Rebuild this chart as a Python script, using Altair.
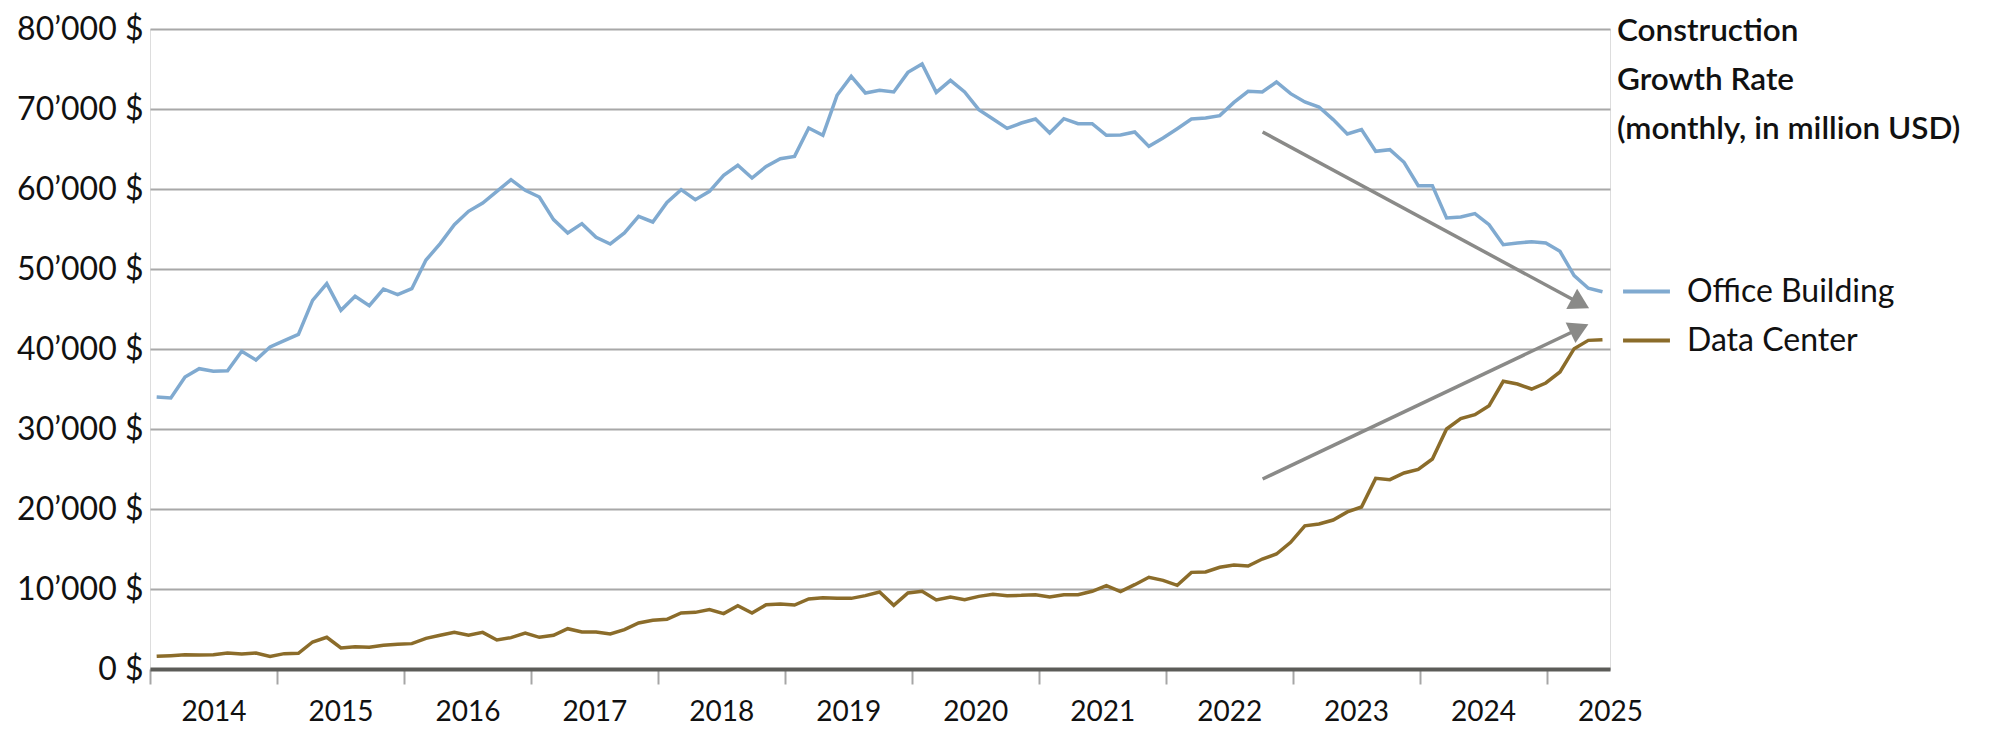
import altair as alt
import pandas as pd

office = [34000, 33875, 36500, 37540, 37210, 37290, 39710, 38625, 40250, 41040,
          41830, 46080, 48170, 44830, 46580, 45420, 47500, 46790, 47540, 51120,
          53170, 55540, 57210, 58250, 59710, 61170, 59830, 59000, 56170, 54500,
          55670, 53960, 53125, 54500, 56580, 55875, 58330, 59920, 58670, 59710,
          61710, 62960, 61375, 62830, 63790, 64080, 67625, 66710, 71710, 74080,
          72000, 72330, 72125, 74580, 75625, 72080, 73580, 72125, 69920, 68750,
          67580, 68250, 68750, 67000, 68790, 68170, 68170, 66710, 66750, 67125,
          65330, 66375, 67540, 68750, 68875, 69170, 70830, 72210, 72125, 73375,
          71920, 70875, 70250, 68670, 66875, 67420, 64710, 64920, 63340, 60420,
          60420, 56375, 56500, 56920, 55540, 53040, 53250, 53420, 53250, 52210,
          49170, 47600, 47150]

datacenter = [1580, 1670, 1790, 1750, 1790, 2000, 1875, 2000, 1580, 1920,
              1960, 3375, 3960, 2625, 2790, 2710, 2960, 3080, 3170, 3830,
              4210, 4580, 4210, 4580, 3625, 3920, 4500, 3960, 4210, 5040,
              4625, 4625, 4375, 4920, 5750, 6080, 6210, 7000, 7080, 7420,
              6920, 7920, 7000, 8040, 8125, 8000, 8750, 8920, 8830, 8830,
              9170, 9625, 7960, 9500, 9710, 8625, 9000, 8670, 9080, 9330,
              9170, 9210, 9290, 9000, 9290, 9290, 9710, 10420, 9670, 10540,
              11460, 11080, 10460, 12080, 12125, 12710, 13000, 12875, 13750, 14375,
              15830, 17900, 18120, 18620, 19640, 20250, 23830, 23670, 24500, 24960,
              26250, 30000, 31290, 31790, 32920, 35960, 35625, 35000, 35750, 37125,
              40040, 41080, 41170]

series_names = ["Office Building", "Data Center"]
series_colors = ["#80aad0", "#8b6c2a"]
year_ticks = list(range(2014, 2026))
y_ticks = list(range(0, 80001, 10000))
title_lines = ["Construction", "Growth Rate", "(monthly, in million USD)"]

# time axis: periods spread evenly from 2014 to mid-2025
t_start, t_end = 2014.0, 2025.5
n = len(office)
t = [t_start + (i + 0.47) * (t_end - t_start) / n for i in range(n)]

df = pd.concat([
    pd.DataFrame({"t": t, "value": office, "series": series_names[0]}),
    pd.DataFrame({"t": t, "value": datacenter, "series": series_names[1]}),
])

# trend arrows (annotation)
arrow_x = [2022.764, 2022.764]
arrow_y = [67125, 23750]
arrow_x2 = [2025.244, 2025.236]
arrow_y2 = [45875, 42375]
arrow_angle = [118.4, 64.6]
arrows = pd.DataFrame({"x": arrow_x, "y": arrow_y, "x2": arrow_x2,
                       "y2": arrow_y2, "angle": arrow_angle})

FONT = "Lato"
W, H = 1460, 640

xscale = alt.Scale(domain=[t_start, t_end], nice=False, zero=False)
yscale = alt.Scale(domain=[0, 80000], nice=False)

x_axis = alt.Axis(values=year_ticks, format="d", labelOffset=63.5, tickSize=15,
                  tickColor="#a6a6a6", tickWidth=2, domainColor="#5c5c58",
                  domainWidth=4, grid=False, labelFontSize=28, labelFont=FONT,
                  labelColor="#111111", labelPadding=14, title=None,
                  labelFlush=False, labelOverlap=False)
y_axis = alt.Axis(values=y_ticks,
                  labelExpr="replace(format(datum.value, ','), ',', '\u2019') + ' $'",
                  grid=True, gridColor="#a8a8a8", gridWidth=2, ticks=False,
                  domain=False, labelPadding=7, minExtent=137, maxExtent=137,
                  labelFontSize=32, labelFont=FONT, labelColor="#111111", title=None,
                  labelLimit=0)

lines = alt.Chart(df).mark_line(strokeWidth=3.5).encode(
    x=alt.X("t:Q", scale=xscale, axis=x_axis),
    y=alt.Y("value:Q", scale=yscale, axis=y_axis),
    color=alt.Color("series:N",
                    scale=alt.Scale(domain=series_names, range=series_colors),
                    sort=series_names,
                    legend=alt.Legend(orient="none", legendX=1471, legendY=237,
                                      title=None, symbolType="stroke",
                                      symbolSize=2200, symbolStrokeWidth=4,
                                      labelFontSize=32, labelFont=FONT,
                                      labelColor="#111111", rowPadding=7,
                                      labelOffset=15, padding=0, labelLimit=0)),
)

arrow_lines = alt.Chart(arrows).mark_rule(strokeWidth=3.5, color="#8a8a88").encode(
    x=alt.X("x:Q", scale=xscale), y=alt.Y("y:Q", scale=yscale),
    x2="x2:Q", y2="y2:Q",
)
arrow_heads = alt.Chart(arrows).mark_point(shape="triangle", filled=True,
                                           size=520, color="#8a8a88", opacity=1).encode(
    x=alt.X("x2:Q", scale=xscale), y=alt.Y("y2:Q", scale=yscale),
    angle=alt.Angle("angle:Q", scale=None),
)

title_text = alt.Chart(pd.DataFrame({"k": [0]})).mark_text(
    align="left", baseline="alphabetic", fontSize=31.5, font=FONT,
    fontWeight=600, color="#111111", lineHeight=49,
).encode(
    x=alt.value(1467), y=alt.value(12), text=alt.value(title_lines),
)

chart = alt.layer(lines, arrow_lines, arrow_heads, title_text).properties(
    width=W, height=H,
    padding={"left": 5, "top": 5, "right": 5, "bottom": 5},
).configure_view(stroke=None).configure(background="white")

chart.save("out.html", embed_options={"renderer": "svg", "actions": False})
